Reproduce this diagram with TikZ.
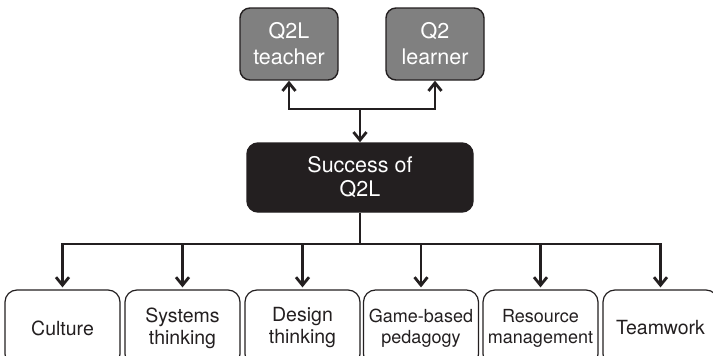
\documentclass[tikz,border=0pt]{standalone}
\usepackage{fontspec}
\setmainfont{TeX Gyre Heros}
\usetikzlibrary{arrows.meta,positioning}
\definecolor{ink}{HTML}{231F20}
\definecolor{boxgray}{HTML}{808080}

\begin{document}
\begin{tikzpicture}[x=1pt,y=-1pt,
  arr/.style={draw=ink,line width=2.8pt,-{Straight Barb[length=8pt,width=13pt]}},
  link/.style={draw=ink,line width=2.8pt},
  topbox/.style={draw=ink,line width=1.4pt,fill=boxgray,rounded corners=10pt,
    minimum width=98pt,minimum height=72pt,inner sep=0pt,align=center,
    text=white,font=\fontsize{21.5}{26}\selectfont},
  mainbox/.style={draw=ink,line width=1.4pt,fill=ink,rounded corners=11pt,
    minimum width=226pt,minimum height=69pt,inner sep=0pt,align=center,
    text=white,font=\fontsize{21.5}{24}\selectfont},
  factor/.style={draw=ink,line width=1.2pt,fill=white,rounded corners=12pt,
    minimum width=115pt,minimum height=76pt,inner sep=0pt,align=center,
    text=ink,font=\fontsize{19.5}{22}\selectfont}]
\clip (0,0) rectangle (713,356);
\useasboundingbox (0,0) rectangle (713,356);

% top row
\node[topbox] (teacher) at (289,44) {Q2L\\teacher};
\node[topbox] (learner) at (435,44) {Q2\\learner};

% centre
\node[mainbox] (success) at (360,177.5) {Success of\\Q2L};
\coordinate (topjoin) at (360,109);
\coordinate (botjoin) at (360,244);

% bottom row
\node[factor] (culture) at (62.5,328) {Culture};
\node[factor] (systems) at (182.5,328) {Systems\\thinking};
\node[factor] (design)  at (302.5,328) {Design\\thinking};
\node[factor,font=\fontsize{18}{21}\selectfont] (game) at (421,328) {Game-based\\pedagogy};
\node[factor,font=\fontsize{18}{21}\selectfont] (resource) at (540.5,328) {Resource\\management};
\node[factor] (teamwork) at (660.5,328) {Teamwork};

% connectors
\draw[arr] (topjoin) -| (teacher.south);
\draw[arr] (topjoin) -| (learner.south);
\draw[arr] (topjoin) -- (success.north);
\draw[link] (success.south) -- (botjoin);
\foreach \n in {culture,systems,design,game,resource,teamwork}
  \draw[arr,shorten >=2pt] (botjoin) -| (\n.north);
\end{tikzpicture}
\end{document}
